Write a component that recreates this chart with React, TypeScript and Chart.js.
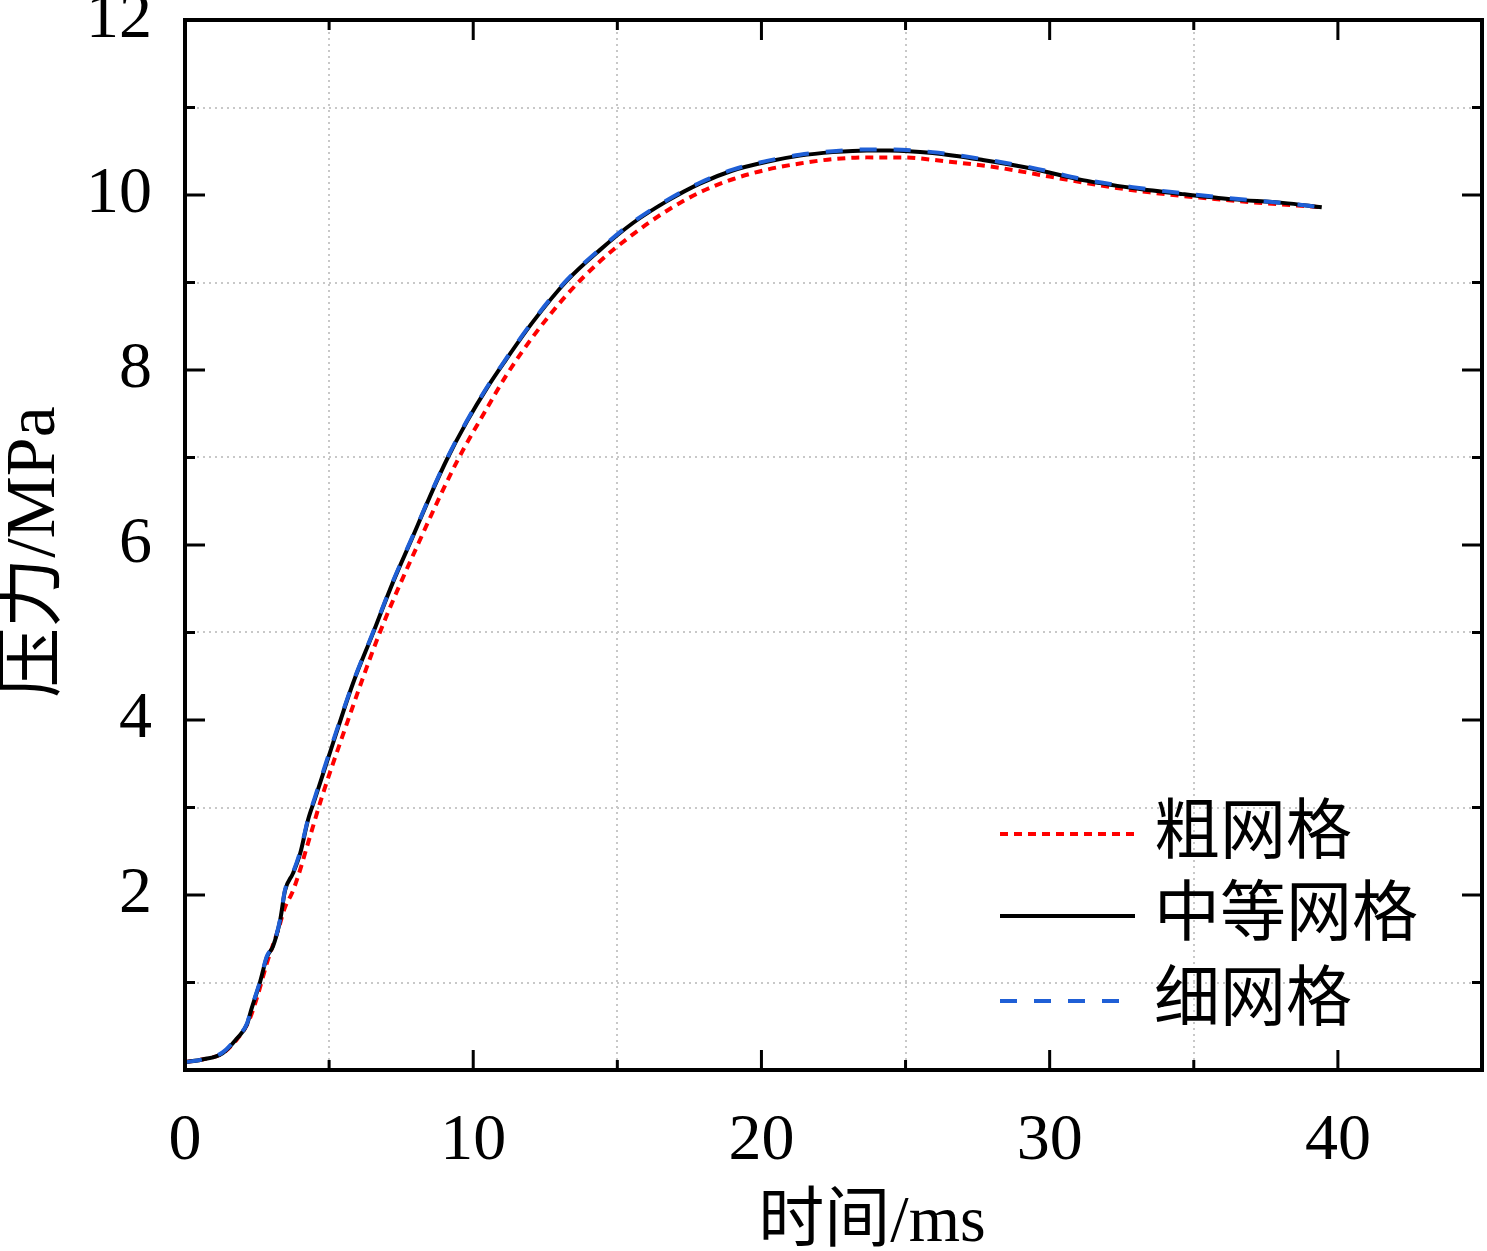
import { useEffect, useRef } from "react";
import { Chart, registerables } from "chart.js";
import type { ChartConfiguration, Plugin } from "chart.js";

Chart.register(...registerables);

// 粗网格 (coarse mesh)
const coarseTime = [
  0, 0.6, 1.3, 1.8, 2.2, 2.5, 2.84, 3.23, 3.47, 3.71, 3.92, 4.23, 4.51, 4.75,
  5.5, 6.76, 8.1, 9.43, 10.4, 11.17, 12.07, 13.25, 14.39, 15.54, 16.72, 17.86,
  19.0, 20.19, 21.33, 22.48, 23.66, 24.8, 26.53, 28.27, 30.0, 31.74, 33.47,
  35.2, 36.93, 39.4,
];
const coarsePressure = [
  0.09, 0.12, 0.19, 0.35, 0.55, 0.83, 1.22, 1.6, 1.86, 2.02, 2.21, 2.55, 2.86,
  3.12, 3.85, 5.0, 6.02, 6.95, 7.52, 7.95, 8.38, 8.86, 9.24, 9.55, 9.82, 10.03,
  10.18, 10.29, 10.36, 10.41, 10.43, 10.43, 10.38, 10.31, 10.21, 10.11, 10.03,
  9.97, 9.92, 9.86,
];

// 中等网格 (medium mesh)
const mediumTime = [
  0, 0.6, 1.3, 1.8, 2.15, 2.3, 2.6, 2.84, 3.05, 3.3, 3.47, 3.75, 4.0, 4.27,
  4.51, 5.14, 5.83, 6.52, 7.21, 7.91, 8.6, 9.09, 9.78, 10.47, 11.1, 12.07,
  13.25, 14.39, 15.54, 16.72, 17.86, 19.0, 20.19, 21.33, 22.48, 23.66, 24.45,
  25.94, 27.68, 29.41, 31.15, 32.88, 34.62, 36.35, 38.09, 39.44,
];
const mediumPressure = [
  0.09, 0.12, 0.19, 0.36, 0.52, 0.69, 1.0, 1.29, 1.41, 1.71, 2.05, 2.25, 2.48,
  2.86, 3.1, 3.74, 4.42, 4.99, 5.57, 6.1, 6.63, 6.98, 7.41, 7.79, 8.1, 8.55,
  9.02, 9.37, 9.68, 9.93, 10.13, 10.28, 10.38, 10.45, 10.49, 10.51, 10.51,
  10.48, 10.4, 10.3, 10.17, 10.08, 10.01, 9.95, 9.91, 9.86,
];

// 细网格 (fine mesh)
const fineTime = [
  0, 0.6, 1.3, 1.8, 2.15, 2.3, 2.6, 2.84, 3.05, 3.3, 3.47, 3.75, 4.0, 4.27,
  4.51, 5.14, 5.83, 6.52, 7.21, 7.91, 8.6, 9.09, 9.78, 10.47, 11.1, 12.07,
  13.25, 14.39, 15.54, 16.72, 17.86, 19.0, 20.19, 21.33, 22.48, 23.66, 24.45,
  25.94, 27.68, 29.41, 31.15, 32.88, 34.62, 36.35, 38.09, 39.44,
];
const finePressure = [
  0.09, 0.12, 0.2, 0.37, 0.53, 0.7, 1.01, 1.3, 1.42, 1.72, 2.06, 2.26, 2.5,
  2.87, 3.12, 3.76, 4.43, 5.0, 5.58, 6.11, 6.64, 6.99, 7.42, 7.8, 8.11, 8.56,
  9.03, 9.38, 9.69, 9.94, 10.14, 10.29, 10.39, 10.46, 10.5, 10.52, 10.52,
  10.49, 10.41, 10.31, 10.18, 10.09, 10.02, 9.96, 9.91, 9.86,
];

const xLabels = [0, 10, 20, 30, 40];
const yLabels = [2, 4, 6, 8, 10, 12];
const seriesNames = ["粗网格", "中等网格", "细网格"];

const serif = '"Liberation Serif", "Times New Roman", "Noto Sans CJK SC", serif';

const toPoints = (t: number[], p: number[]) => t.map((x, i) => ({ x, y: p[i] }));

// inward ticks, frame, axis titles and legend
const framePlugin: Plugin<"line"> = {
  id: "frame",
  afterDatasetsDraw(chart) {
    const { ctx, chartArea: a, scales } = chart;
    const xs = scales.x;
    const ys = scales.y;
    ctx.save();
    ctx.strokeStyle = "#000";
    ctx.lineWidth = 3;

    xs.ticks.forEach((t) => {
      const px = xs.getPixelForValue(t.value);
      const len = t.value % 10 === 0 ? 20 : 10;
      ctx.beginPath();
      ctx.moveTo(px, a.bottom);
      ctx.lineTo(px, a.bottom - len);
      ctx.moveTo(px, a.top);
      ctx.lineTo(px, a.top + len);
      ctx.stroke();
    });
    ys.ticks.forEach((t) => {
      const py = ys.getPixelForValue(t.value);
      const len = t.value % 2 === 0 ? 20 : 10;
      ctx.beginPath();
      ctx.moveTo(a.left, py);
      ctx.lineTo(a.left + len, py);
      ctx.moveTo(a.right, py);
      ctx.lineTo(a.right - len, py);
      ctx.stroke();
    });

    ctx.lineWidth = 4;
    ctx.strokeRect(a.left, a.top, a.right - a.left, a.bottom - a.top);

    // axis titles
    ctx.fillStyle = "#000";
    ctx.textAlign = "center";
    ctx.textBaseline = "middle";
    ctx.font = `66px ${serif}`;
    ctx.fillText("时间/ms", 872, 1224);
    ctx.save();
    ctx.translate(36, 552);
    ctx.rotate(-Math.PI / 2);
    ctx.font = `70px ${serif}`;
    ctx.fillText("压力/MPa", 0, 0);
    ctx.restore();

    // legend
    const rows = [834, 916, 1001];
    ctx.font = `66px ${serif}`;
    ctx.textAlign = "left";
    chart.data.datasets.forEach((ds, i) => {
      ctx.save();
      ctx.strokeStyle = ds.borderColor as string;
      ctx.lineWidth = ds.borderWidth as number;
      ctx.setLineDash((ds.borderDash as number[]) || []);
      ctx.beginPath();
      ctx.moveTo(1000, rows[i]);
      ctx.lineTo(1135, rows[i]);
      ctx.stroke();
      ctx.restore();
      ctx.fillText(seriesNames[i], 1154, rows[i] + 2);
    });
    ctx.restore();
  },
};

export default function App() {
  const canvasRef = useRef<HTMLCanvasElement>(null);

  useEffect(() => {
    document.body.style.margin = "0";
    if (!canvasRef.current) return;

    const config: ChartConfiguration<"line"> = {
      type: "line",
      data: {
        datasets: [
          {
            label: seriesNames[0],
            data: toPoints(coarseTime, coarsePressure),
            borderColor: "#ff0000",
            borderWidth: 4,
            borderDash: [8, 6],
            order: 3,
          },
          {
            label: seriesNames[1],
            data: toPoints(mediumTime, mediumPressure),
            borderColor: "#000000",
            borderWidth: 4,
            order: 2,
          },
          {
            label: seriesNames[2],
            data: toPoints(fineTime, finePressure),
            borderColor: "#1f5fd6",
            borderWidth: 4,
            borderDash: [17, 17],
            order: 1,
          },
        ],
      },
      options: {
        animation: false,
        responsive: true,
        maintainAspectRatio: false,
        parsing: false,
        layout: { padding: { left: 0, top: 20, right: 5, bottom: 0 } },
        elements: {
          point: { radius: 0 },
          line: { cubicInterpolationMode: "monotone", fill: false },
        },
        plugins: {
          legend: { display: false },
          tooltip: { enabled: false },
        },
        scales: {
          x: {
            type: "linear",
            min: 0,
            max: 45,
            afterFit: (s) => {
              s.height = 181;
              s.paddingLeft = 0;
              s.paddingRight = 0;
            },
            ticks: {
              stepSize: 5,
              autoSkip: false,
              maxRotation: 0,
              padding: 32,
              color: "#000",
              font: { family: serif, size: 66 },
              callback: (v) => (xLabels.includes(Number(v)) ? String(v) : ""),
            },
            grid: {
              drawTicks: false,
              lineWidth: 2,
              color: (c) => (c.tick && c.tick.value % 10 === 5 ? "#c8c8c8" : "rgba(0,0,0,0)"),
            },
            border: { display: false, dash: [2, 4] },
          },
          y: {
            type: "linear",
            min: 0,
            max: 12,
            afterFit: (s) => {
              s.width = 185;
              s.paddingTop = 0;
              s.paddingBottom = 0;
            },
            ticks: {
              stepSize: 1,
              autoSkip: false,
              padding: 33,
              color: "#000",
              font: { family: serif, size: 66 },
              callback: (v) => (yLabels.includes(Number(v)) ? String(v) : ""),
            },
            grid: {
              drawTicks: false,
              lineWidth: 2,
              color: (c) => (c.tick && c.tick.value % 2 === 1 ? "#c8c8c8" : "rgba(0,0,0,0)"),
            },
            border: { display: false, dash: [2, 4] },
          },
        },
      },
      plugins: [framePlugin],
    };

    const chart = new Chart(canvasRef.current, config);
    return () => chart.destroy();
  }, []);

  return (
    <div style={{ width: 1487, height: 1251, position: "relative", background: "#fff" }}>
      <canvas ref={canvasRef} />
    </div>
  );
}
